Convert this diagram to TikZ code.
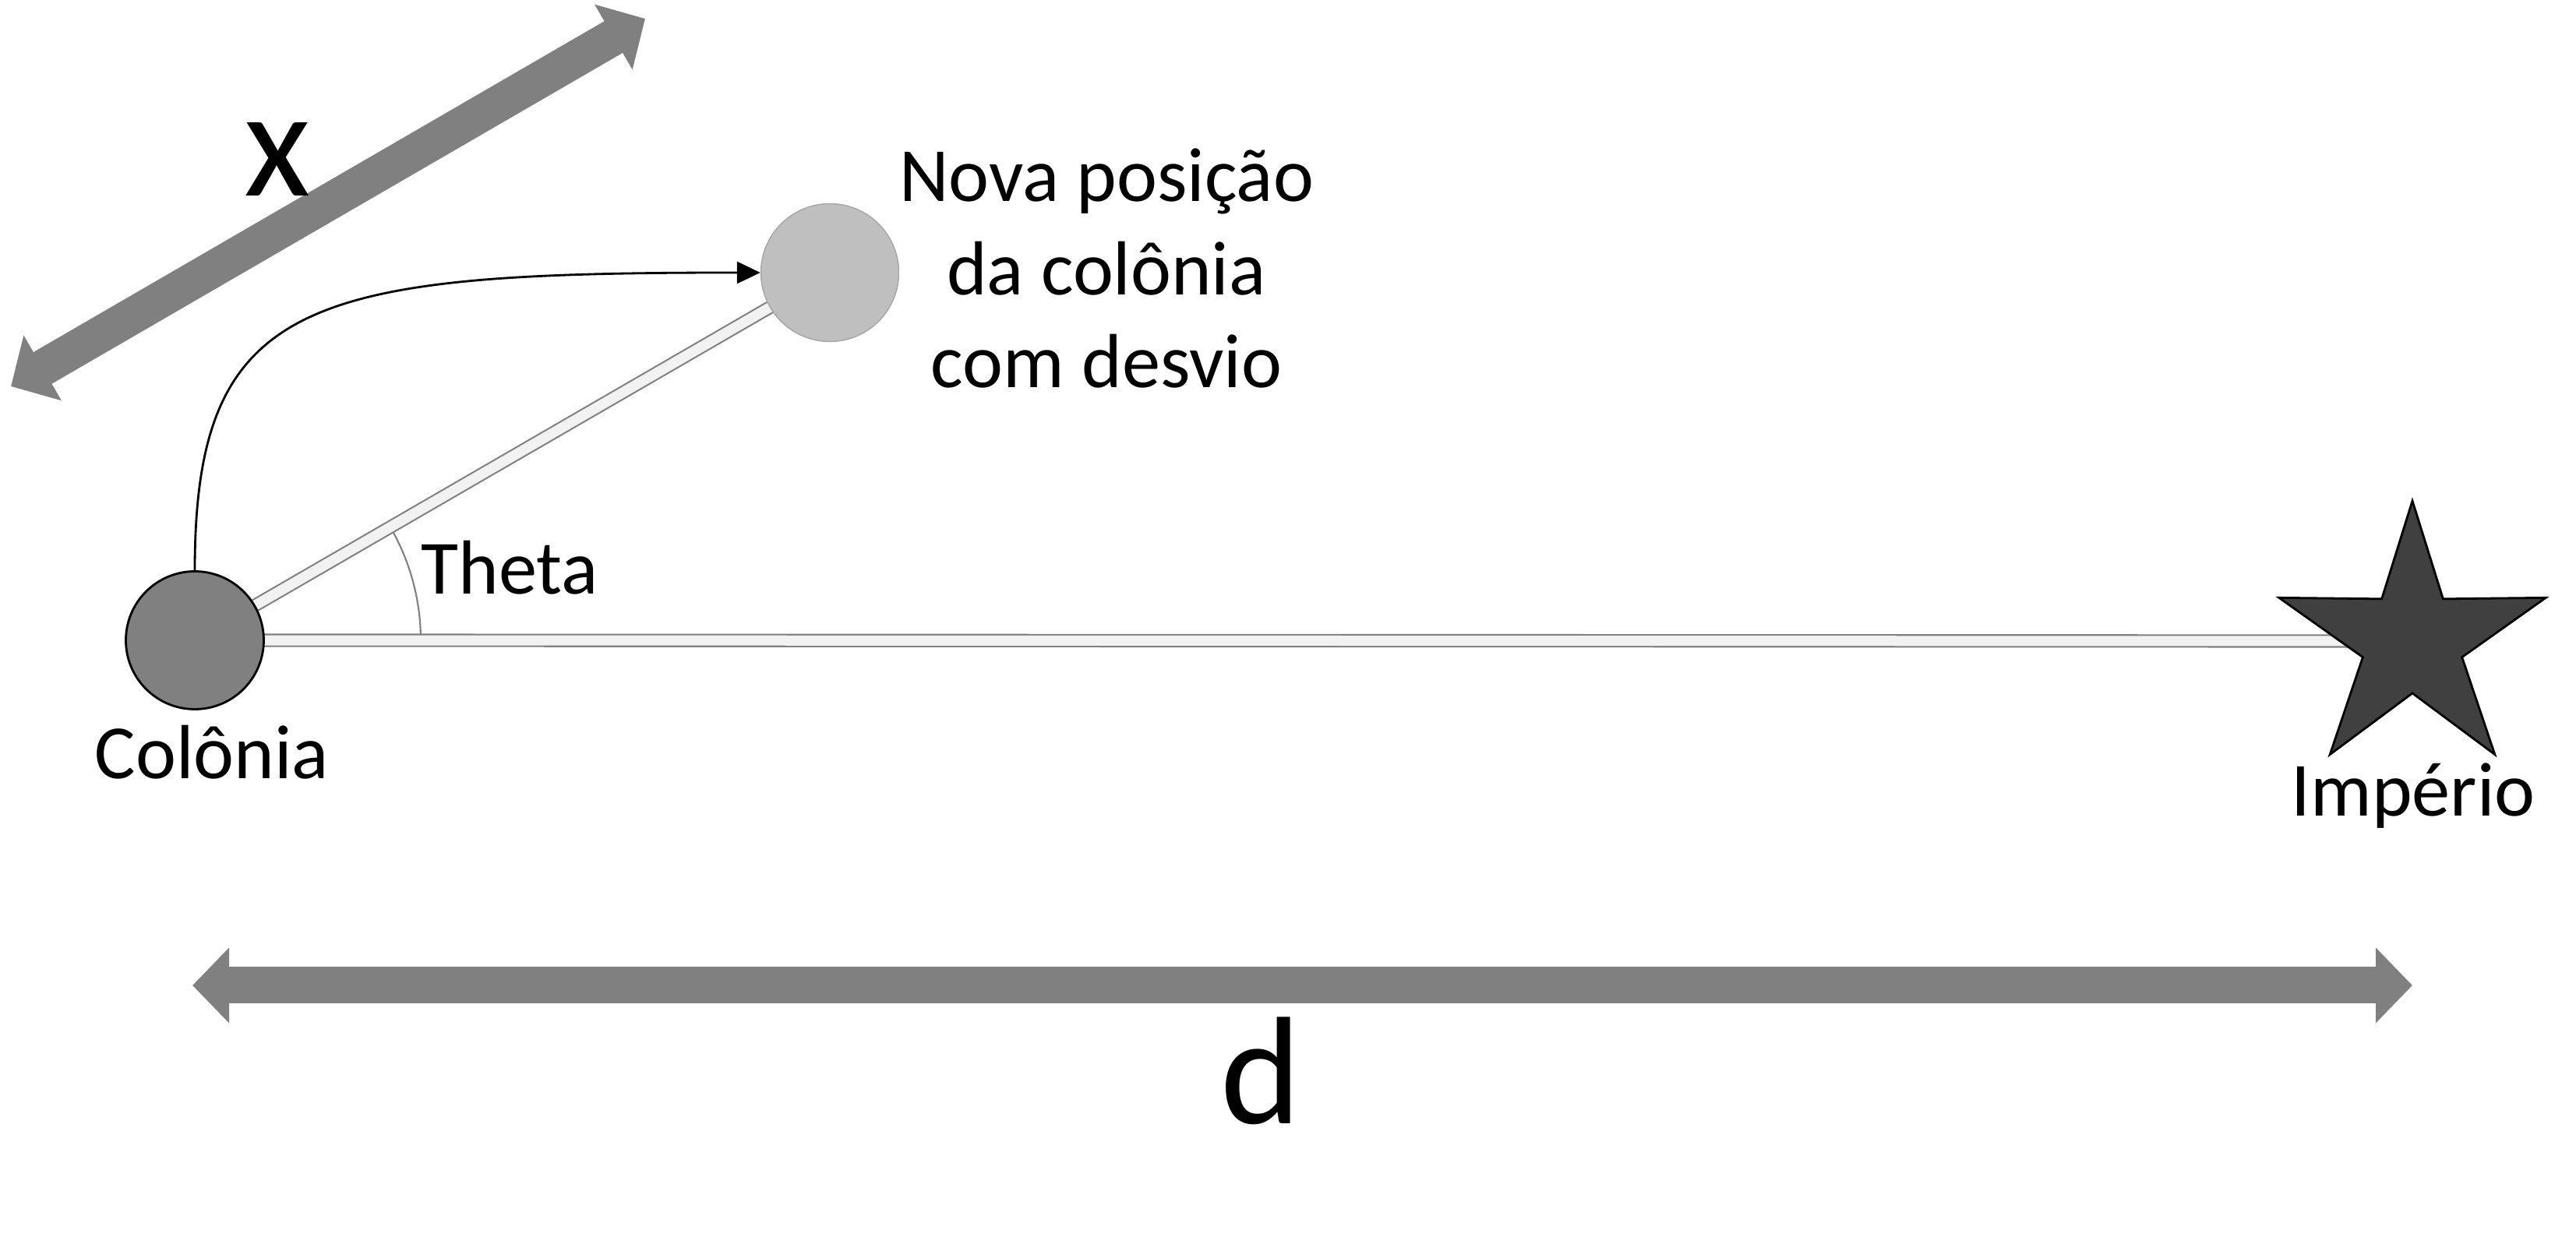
\documentclass[tikz,border=0pt]{standalone}
\usepackage{fontspec}
\setmainfont{Carlito}
\usetikzlibrary{arrows.meta,shapes.geometric,angles,backgrounds}

\begin{document}
\begin{tikzpicture}[
        colony/.style={circle, draw=black, line width=0.8pt, fill=gray, minimum size=1.77cm, inner sep=0pt},
        moved/.style={circle, draw=gray!70, line width=0.4pt, fill=gray!50, minimum size=1.77cm, inner sep=0pt},
        empire/.style={star, star points=5, star point ratio=2.69, draw=black, line width=0.8pt, fill=black!75, minimum size=3.6cm, inner sep=0pt},
        band/.style={draw=gray, line width=0.6pt, double=gray!10, double distance=0.13cm},
        measure/.style={draw=gray, line width=0.47cm, {Triangle[width=0.94cm,length=0.47cm]}-{Triangle[width=0.94cm,length=0.47cm]}},
        shift arrow/.style={draw=black, line width=0.8pt, -{Triangle[width=0.28cm,length=0.3cm]}},
        small label/.style={font=\fontsize{28}{34}\selectfont, inner sep=0pt},
        big label/.style={font=\fontsize{56}{66}\selectfont, inner sep=0pt}]

        \useasboundingbox (0,0) rectangle (33.06,15.97);

        \node[colony] (col) at (2.50, 7.75) {};
        \node[moved] (nova) at (10.65, 12.47) {};
        \node[empire] (imp) at (30.96, 7.74) {};

        \begin{scope}[on background layer]
            \pic[draw=gray, line width=0.6pt, angle radius=2.9cm] {angle = imp--col--nova};
            \draw[band] (col.center) -- (imp.center);
            \draw[band] (col.center) -- (nova.center);
        \end{scope}

        \draw[shift arrow] (col.north) .. controls +(0,3.5) and +(-5.8,0) .. (nova.west);

        \node[small label, anchor=base] (coltxt) at (2.72, 5.97) {Colônia};
        \node[small label, anchor=base] (imptxt) at (30.97, 5.49) {Império};
        \node[small label, anchor=base west] (theta) at (5.40, 8.34) {Theta};
        \node[small label, anchor=base, align=center, font=\fontsize{28}{34}\selectfont] (novatxt) at (14.20, 10.99) {Nova posição\\da colônia\\com desvio};

        % distance arrows
        \coordinate (xa) at (0.14, 11.01);
        \coordinate (xb) at (8.28, 15.73);
        \draw[measure] (xa) -- (xb);
        \node[big label, anchor=base] (xtxt) at (3.56, 13.45) {x};

        \coordinate (da) at (2.47, 3.32);
        \coordinate (db) at (30.96, 3.32);
        \draw[measure] (da) -- (db);
        \node[big label, anchor=base] (dtxt) at (16.18, 1.54) {d};
    \end{tikzpicture}
\end{document}
